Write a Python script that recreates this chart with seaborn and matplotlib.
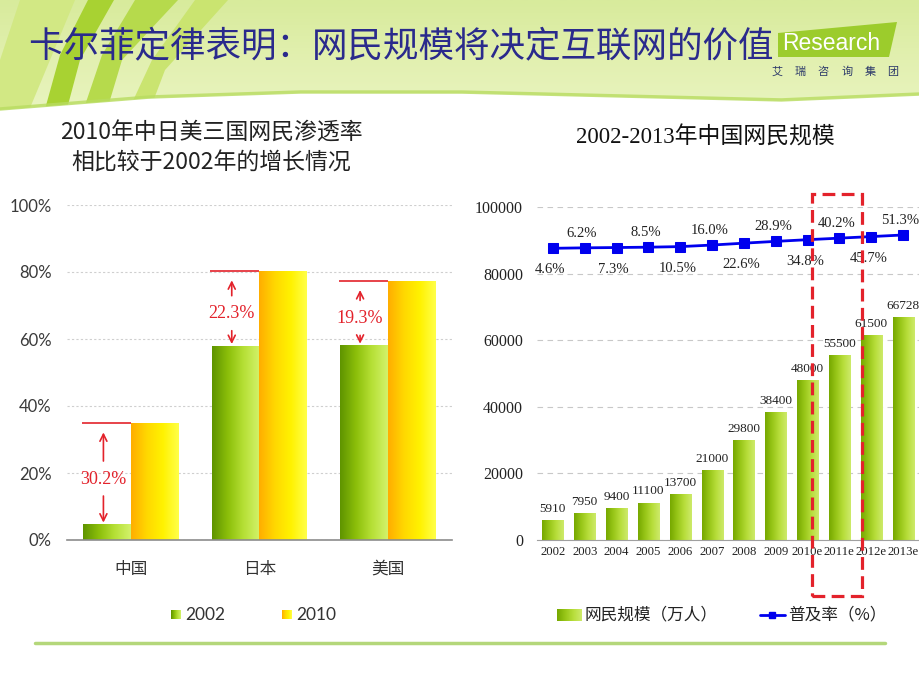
import numpy as np
import pandas as pd
import matplotlib
matplotlib.use("Agg")
import matplotlib.pyplot as plt
import seaborn as sns
from matplotlib.colors import LinearSegmentedColormap
from matplotlib.patches import Rectangle, Polygon

sns.set_style("white")
plt.rcParams['font.family'] = ['Noto Sans CJK SC', 'DejaVu Sans']

# ---- data: left chart (penetration rate, %)
countries = ["中国", "日本", "美国"]
rate_2002 = [4.6, 57.9, 58.0]
rate_2010 = [34.8, 80.2, 77.3]
growth_labels = ["30.2%", "22.3%", "19.3%"]

# ---- data: right chart (netizens, 10k people / penetration %)
years = ["2002", "2003", "2004", "2005", "2006", "2007", "2008", "2009",
         "2010e", "2011e", "2012e", "2013e"]
netizens = [5910, 7950, 9400, 11100, 13700, 21000, 29800, 38400, 48000, 55500, 61500, 66728]
penetration = [4.6, 6.2, 7.3, 8.5, 10.5, 16.0, 22.6, 28.9, 34.8, 40.2, 45.7, 51.3]

RED = "#e3222b"
BLUE = "#0000ee"
SERIF = "Liberation Serif"

green_l = LinearSegmentedColormap.from_list("gl", ["#5f9400", "#8cbf0a", "#b6e036", "#d2f26a"])
yellow = LinearSegmentedColormap.from_list("yl", ["#ffae00", "#ffd800", "#fff200", "#ffff48"])
green_r = LinearSegmentedColormap.from_list("gr", ["#76a800", "#98c618", "#b8de3c", "#cdea6a"])
grad = np.linspace(0, 1, 64).reshape(1, -1)


def gradient_bars(ax, container, cmap):
    for bar in container:
        x, y = bar.get_x(), bar.get_y()
        w, h = bar.get_width(), bar.get_height()
        bar.set_facecolor("none")
        bar.set_edgecolor("none")
        ax.imshow(grad, cmap=cmap, extent=[x, x + w, y, y + h],
                  aspect="auto", zorder=2, interpolation="bicubic")


fig = plt.figure(figsize=(9.2, 6.9), dpi=100)

# ---- slide background (pixel coordinates)
bg = fig.add_axes([0, 0, 1, 1])
bg.set_zorder(-1)
bg.set_xlim(0, 920)
bg.set_ylim(690, 0)
bg.axis("off")
vgrad = np.linspace(0, 1, 64).reshape(-1, 1)
head = LinearSegmentedColormap.from_list("hd", ["#d8eb9c", "#e2f0b0", "#eaf5c2"])
bg.imshow(vgrad, cmap=head, extent=[0, 920, 120, 0], aspect="auto", zorder=0)
for pts, col in [
    ([(20, 0), (75, 0), (25, 120), (0, 120), (0, 60)], "#d2e884"),
    ([(88, 0), (114, 0), (80, 60), (64, 120), (42, 120), (60, 55)], "#a8d232"),
    ([(135, 0), (178, 0), (122, 60), (104, 120), (80, 120), (102, 55)], "#b6da4c"),
    ([(195, 0), (228, 0), (165, 70), (146, 120), (124, 120), (152, 60)], "#cae470"),
]:
    bg.add_patch(Polygon(pts, closed=True, color=col, zorder=1, lw=0))
cx = np.linspace(0, 920, 200)
cy = np.interp(cx, [0, 150, 300, 460, 620, 780, 920], [110, 98, 93, 93, 97, 101, 95])
bg.add_patch(Polygon(np.column_stack([np.r_[cx, 920, 0], np.r_[cy, 690, 690]]),
                     closed=True, color="white", zorder=2, lw=0))
bg.plot(cx, cy - 1, color="#b8dc60", lw=2.5, alpha=0.8, zorder=3)
bg.plot([35, 885], [643, 643], color="#b4d77a", lw=2.5, zorder=3)

# logo
bg.add_patch(Polygon([(778, 33), (897, 22), (889, 57), (778, 57)], closed=True,
                     color="#9ccc2c", zorder=4, lw=0))
bg.text(782, 43, "Research", color="white", fontsize=16.5, family="Liberation Sans",
        ha="left", va="center", zorder=5)
for k, ch in enumerate("艾瑞咨询集团"):
    bg.text(777 + k * 23.2, 72, ch, fontsize=8, color="#2d3a6a", ha="center", va="center", zorder=5)

# slide title
bg.text(28, 46, "卡尔菲定律表明：网民规模将决定互联网的价值", fontsize=25.6, color="#2a2a8c",
        ha="left", va="center", zorder=6)

# ---- left chart
axL = fig.add_axes([67 / 920, 150 / 690, 385 / 920, 335 / 690])
axL.set_facecolor("none")
df_left = pd.DataFrame({"country": countries * 2,
                        "year": ["2002"] * 3 + ["2010"] * 3,
                        "rate": rate_2002 + rate_2010})
sns.barplot(data=df_left, x="country", y="rate", hue="year", width=0.745, gap=0,
            palette=["#8cbf0a", "#fff200"], saturation=1, legend=False, ax=axL)
gradient_bars(axL, axL.containers[0], green_l)
gradient_bars(axL, axL.containers[1], yellow)
axL.set_xlim(-0.5, 2.5)
axL.set_ylim(0, 100)
axL.set_yticks([0, 20, 40, 60, 80, 100])
axL.set_yticklabels([f"{v}%" for v in [0, 20, 40, 60, 80, 100]], family="Lato",
                    fontsize=12, color="#3a3a3a")
axL.yaxis.grid(True, linestyle=(0, (2, 2)), color="#cfcfcf", lw=0.8)
axL.set_axisbelow(True)
for s in ["top", "right", "left"]:
    axL.spines[s].set_visible(False)
axL.spines["bottom"].set_color("#8c8c8c")
axL.spines["bottom"].set_linewidth(1.2)
axL.tick_params(axis="y", length=0, pad=11)
axL.tick_params(axis="x", length=0, pad=15, labelsize=12, labelcolor="#333333")
axL.set_xlabel("")
axL.set_ylabel("")

px = 100 / 335
bw = 0.745 / 2
for i, (a, b, lab) in enumerate(zip(rate_2002, rate_2010, growth_labels)):
    xm = i - bw / 2 - 0.03
    axL.hlines(b, i - bw - 0.01, i, color=RED, lw=1.2, zorder=4)
    ty = (a + b) / 2 - 1.5
    axL.text(xm, ty, lab, color=RED, fontsize=13, family=SERIF, ha="center", va="center", zorder=5)
    aprops = dict(arrowstyle="->,head_length=0.5,head_width=0.25", color=RED, lw=1.2,
                  shrinkA=0, shrinkB=0)
    axL.annotate("", xy=(xm, b - 9 * px), xytext=(xm, ty + 18 * px), arrowprops=aprops, zorder=5)
    axL.annotate("", xy=(xm, a + 2 * px), xytext=(xm, ty - 17 * px), arrowprops=aprops, zorder=5)

bg.text(211, 133, "2010年中日美三国网民渗透率", fontsize=16.5, color="#222222", ha="center", va="center")
bg.text(211, 163, "相比较于2002年的增长情况", fontsize=16.5, color="#222222", ha="center", va="center")

# left legend
bg.imshow(grad, cmap=green_l, extent=[171, 181, 619, 610], aspect="auto", zorder=4)
bg.text(185, 615, "2002", family="Lato", fontsize=12.5, color="#333333", va="center")
bg.imshow(grad, cmap=yellow, extent=[282, 292, 619, 610], aspect="auto", zorder=4)
bg.text(296, 615, "2010", family="Lato", fontsize=12.5, color="#333333", va="center")

# ---- right chart
axR = fig.add_axes([537 / 920, 150 / 690, 382 / 920, 333 / 690])
axR.set_facecolor("none")
df_right = pd.DataFrame({"year": years, "netizens": netizens})
sns.barplot(data=df_right, x="year", y="netizens", width=0.66, color="#98c618",
            saturation=1, ax=axR)
bars = axR.containers[0]
axR.bar_label(bars, labels=[str(v) for v in netizens], padding=4, fontsize=9.5,
              family=SERIF, color="#222222")
gradient_bars(axR, bars, green_r)
axR.set_xlim(-0.5, 11.5)
axR.set_ylim(0, 100000)
axR.set_yticks(range(0, 100001, 20000))
axR.set_yticklabels([str(v) for v in range(0, 100001, 20000)], family=SERIF,
                    fontsize=11.5, color="#222222")
axR.set_xticks(range(len(years)))
axR.set_xticklabels(years, family=SERIF, fontsize=9.2, color="#222222")
axR.yaxis.grid(True, linestyle=(0, (5, 4)), color="#c8c8c8", lw=0.8)
axR.set_axisbelow(True)
for s in ["top", "right", "left"]:
    axR.spines[s].set_visible(False)
axR.spines["bottom"].set_color("#a0a0a0")
axR.tick_params(axis="y", length=0, pad=10)
axR.tick_params(axis="x", length=0, pad=4)
axR.set_xlabel("")
axR.set_ylabel("")

axT = axR.twinx()
sns.lineplot(x=np.arange(len(years)), y=penetration, ax=axT, color=BLUE, lw=2,
             marker="s", markersize=7, markeredgecolor=BLUE)
axT.set_ylim(-1019, 149.5)
axT.set_axis_off()
for i, v in enumerate(penetration):
    off = 10.5 if i % 2 == 1 else -15.5
    axT.annotate(f"{v:.1f}%", (i, v), xytext=(-2, off), textcoords="offset points",
                 ha="center", va="center", fontsize=10.5, family=SERIF, color="#222222")
axT.add_patch(Rectangle((8.14, -16800), 1.58, 120700, transform=axR.transData,
                        fill=False, edgecolor=RED, lw=2.3, linestyle=(0, (4, 2)),
                        clip_on=False, zorder=10))

bg.text(705, 137, "2002-2013年中国网民规模", fontsize=16.5, color="#111111", ha="center", va="center",
        family=[SERIF, "Noto Sans CJK SC"])

# right legend
bg.imshow(grad, cmap=green_r, extent=[557, 582, 621, 609], aspect="auto", zorder=4)
bg.text(585, 615, "网民规模（万人）", fontsize=12, color="#222222", va="center")
bg.plot([760, 785], [615, 615], color=BLUE, lw=2, zorder=4)
bg.plot([772], [615], marker="s", color=BLUE, markersize=5, zorder=5)
bg.text(788, 615, "普及率（%）", fontsize=12, color="#222222", va="center")

fig.savefig("out.png", dpi=100)
